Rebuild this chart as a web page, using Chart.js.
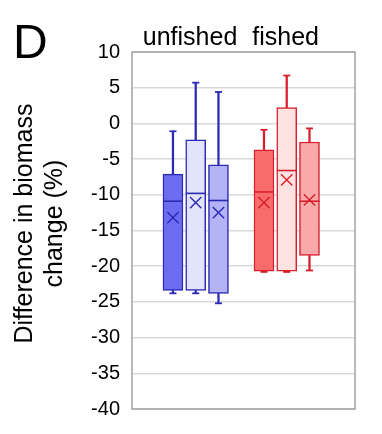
<!DOCTYPE html>
<html>
<head>
<meta charset="utf-8">
<script src="https://cdn.jsdelivr.net/npm/chart.js@4"></script>
<style>
html,body{margin:0;padding:0;background:#fff;}
#wrap{width:382px;height:434px;position:relative;}
</style>
</head>
<body>
<div id="wrap"><canvas id="c"></canvas></div>
<script>
// ---- data ----
const groups = ['unfished', 'fished'];
const boxSlot = [2, 3, 4, 6, 7, 8];           // slot index of each box on the hidden x axis
const whiskerHigh = [-1.1, 5.7, 4.4, -0.9, 6.7, -0.7];
const q3 = [-7.1, -2.3, -5.8, -3.7, 2.2, -2.6];
const median = [-10.9, -9.8, -10.8, -9.6, -6.6, -10.9];
const mean = [-13.2, -11.1, -12.5, -11.1, -7.9, -10.7];
const q1 = [-23.4, -23.4, -23.8, -20.7, -20.7, -18.5];
const whiskerLow = [-23.8, -23.8, -25.2, -20.8, -20.8, -20.6];
const yTicks = [10, 5, 0, -5, -10, -15, -20, -25, -30, -35, -40];

// ---- styles ----
const fills = ['#6c6cf2', '#e3e3fb', '#b3b3f6', '#f86c6c', '#fde2e2', '#f9a9a9'];
const edges = ['#2a2ab4', '#2a2ab4', '#2a2ab4', '#d91f2b', '#d91f2b', '#d91f2b'];
const FONT = "'Liberation Sans', Arial, Helvetica, sans-serif";
Chart.defaults.font.family = FONT;
Chart.defaults.color = '#000';

const pts = (ys) => boxSlot.map((x, i) => ({x: x, y: ys[i]}));
const range = (a, b) => boxSlot.map((x, i) => ({x: x, y: [a[i], b[i]]}));

const frame = {
  id: 'frame',
  beforeDatasetsDraw(chart) {
    const {ctx, chartArea: a} = chart;
    ctx.save();
    ctx.strokeStyle = '#a3a3a3';
    ctx.lineWidth = 1.5;
    ctx.strokeRect(a.left, a.top, a.right - a.left, a.bottom - a.top);
    ctx.restore();
  },
  afterDraw(chart) {
    const ctx = chart.ctx;
    ctx.save();
    ctx.fillStyle = '#000';
    ctx.font = '48px ' + FONT;
    ctx.textBaseline = 'alphabetic';
    ctx.fillText('D', 13, 58);
    ctx.restore();
  }
};

new Chart(document.getElementById('c'), {
  type: 'bar',
  data: {
    datasets: [
      {
        type: 'bar', label: 'upper whisker', data: range(q3, whiskerHigh),
        backgroundColor: edges, borderWidth: 0, barThickness: 1.6, grouped: false, order: 5
      },
      {
        type: 'bar', label: 'lower whisker', data: range(whiskerLow, q1),
        backgroundColor: edges, borderWidth: 0, barThickness: 1.6, grouped: false, order: 5
      },
      {
        type: 'scatter', label: 'caps high', data: pts(whiskerHigh),
        pointStyle: 'line', pointRadius: 3.5, pointBorderColor: edges, pointBorderWidth: 1.8,
        pointHoverRadius: 3.5, order: 4
      },
      {
        type: 'scatter', label: 'caps low', data: pts(whiskerLow),
        pointStyle: 'line', pointRadius: 3.5, pointBorderColor: edges, pointBorderWidth: 1.8,
        pointHoverRadius: 3.5, order: 4
      },
      {
        type: 'bar', label: 'box', data: range(q1, q3),
        backgroundColor: fills, borderColor: edges, borderWidth: 1.5, borderSkipped: false,
        barThickness: 20, grouped: false, order: 3
      },
      {
        type: 'scatter', label: 'median', data: pts(median),
        pointStyle: 'line', pointRadius: 10, pointBorderColor: edges, pointBorderWidth: 1.6,
        pointHoverRadius: 10, order: 2
      },
      {
        type: 'scatter', label: 'mean', data: pts(mean),
        pointStyle: 'crossRot', pointRadius: 8, pointBorderColor: edges, pointBorderWidth: 1.4,
        pointHoverRadius: 8, order: 1
      }
    ]
  },
  options: {
    responsive: true,
    maintainAspectRatio: false,
    animation: false,
    events: [],
    layout: {padding: {left: 0, right: 27, top: 0, bottom: 25}},
    plugins: {legend: {display: false}, tooltip: {enabled: false}, title: {display: false}},
    scales: {
      x: {
        type: 'linear', min: 0.2, max: 10, offset: false, display: false
      },
      x2: {
        type: 'linear', position: 'top', min: 0.2, max: 10, offset: false,
        grid: {display: false, drawTicks: false, tickLength: 0}, border: {display: false},
        afterBuildTicks(axis) { axis.ticks = [{value: 2.75}, {value: 6.95}]; },
        afterFit(axis) { axis.height = 52; },
        ticks: {
          autoSkip: false, maxRotation: 0, minRotation: 0, padding: -1,
          font: {size: 25}, color: '#000',
          callback: (v, i) => groups[i]
        }
      },
      y: {
        type: 'linear', min: -40, max: 10,
        afterBuildTicks(axis) { axis.ticks = yTicks.map(v => ({value: v})); },
        afterFit(axis) { axis.width = 132; },
        grid: {color: '#d9d9d9', lineWidth: 1.5, drawTicks: false},
        border: {display: false},
        ticks: {font: {size: 20}, color: '#000', padding: 12, autoSkip: false},
        title: {
          display: true,
          text: ['  Difference in biomass', '  change (%)'],
          font: {size: 25, lineHeight: 1.2},
          color: '#000',
          padding: {top: 10, bottom: 0}
        }
      }
    }
  },
  plugins: [frame]
});
</script>
</body>
</html>
